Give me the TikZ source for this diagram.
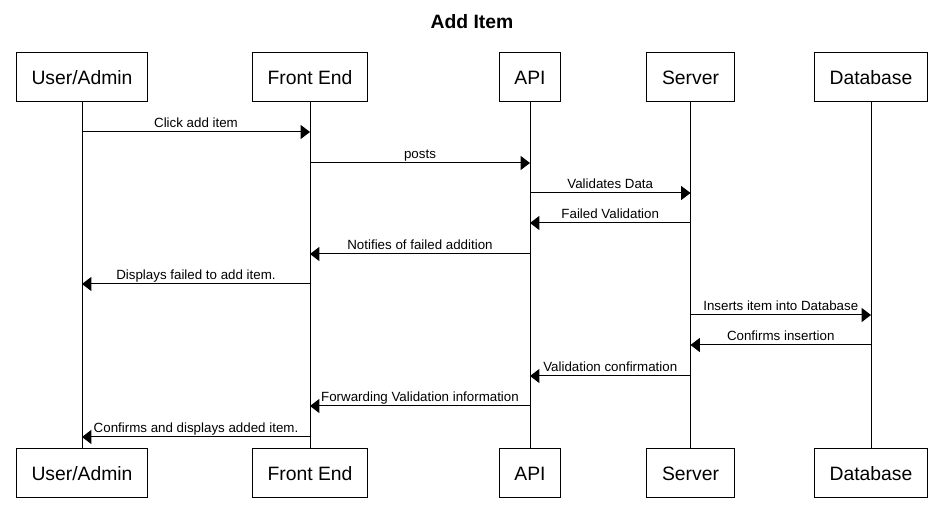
\documentclass[tikz,border=0pt]{standalone}
\usepackage{fontspec}
\setmainfont{Liberation Sans}
\usetikzlibrary{arrows.meta}

\tikzset{
	actor/.style={draw, line width=0.75pt, font=\fontsize{14.5}{17}\selectfont, inner xsep=11.5pt, minimum height=36.75pt},
	lifeline/.style={line width=0.75pt},
	msg/.style={line width=0.75pt, -{Triangle[length=7pt,width=10.5pt]}},
	msglabel/.style={anchor=base, yshift=3pt, font=\fontsize{10}{12}\selectfont, inner sep=0pt}
}

\begin{document}
\begin{tikzpicture}[x=0.75pt, y=-0.75pt]
		\useasboundingbox (0,0) rectangle (943,523);
		\draw (472,22) node[font=\bfseries\fontsize{14.5}{17}\selectfont](title){Add Item};

		% participants
		\draw (82,77.5) node[actor](ua){User/Admin};
		\draw (310,77.5) node[actor](fe){Front End};
		\draw (530,77.5) node[actor](api){API};
		\draw (690.5,77.5) node[actor](srv){Server};
		\draw (871,77.5) node[actor](db){Database};

		\draw (82,473.5) node[actor](ua2){User/Admin};
		\draw (310,473.5) node[actor](fe2){Front End};
		\draw (530,473.5) node[actor](api2){API};
		\draw (690.5,473.5) node[actor](srv2){Server};
		\draw (871,473.5) node[actor](db2){Database};

		\draw[lifeline] (ua) -- (ua2);
		\draw[lifeline] (fe) -- (fe2);
		\draw[lifeline] (api) -- (api2);
		\draw[lifeline] (srv) -- (srv2);
		\draw[lifeline] (db) -- (db2);

		% messages
		\draw[msg] (ua |- 0,132) -- (fe |- 0,132) node[pos=0.5][msglabel]{Click add item};
		\draw[msg] (fe |- 0,163) -- (api |- 0,163) node[pos=0.5][msglabel]{posts};
		\draw[msg] (api |- 0,193) -- (srv |- 0,193) node[pos=0.5][msglabel]{Validates Data};
		\draw[msg] (srv |- 0,223) -- (api |- 0,223) node[pos=0.5][msglabel]{Failed Validation};
		\draw[msg] (api |- 0,254) -- (fe |- 0,254) node[pos=0.5][msglabel]{Notifies of failed addition};
		\draw[msg] (fe |- 0,284) -- (ua |- 0,284) node[pos=0.5][msglabel]{Displays failed to add item.};
		\draw[msg] (srv |- 0,315) -- (db |- 0,315) node[pos=0.5][msglabel]{Inserts item into Database};
		\draw[msg] (db |- 0,345) -- (srv |- 0,345) node[pos=0.5][msglabel]{Confirms insertion};
		\draw[msg] (srv |- 0,376) -- (api |- 0,376) node[pos=0.5][msglabel]{Validation confirmation};
		\draw[msg] (api |- 0,406) -- (fe |- 0,406) node[pos=0.5][msglabel]{Forwarding Validation information};
		\draw[msg] (fe |- 0,437) -- (ua |- 0,437) node[pos=0.5][msglabel]{Confirms and displays added item.};

	\end{tikzpicture}
\end{document}
